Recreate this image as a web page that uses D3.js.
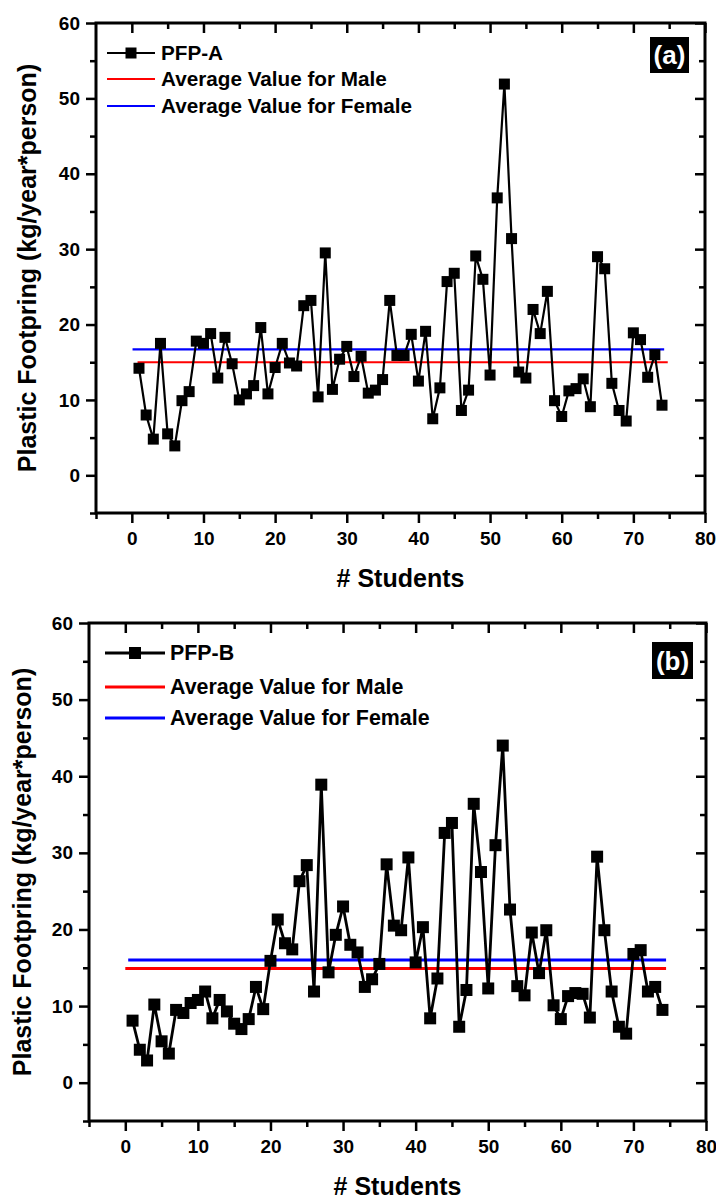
<!DOCTYPE html>
<html>
<head>
<meta charset="utf-8">
<script src="https://cdn.jsdelivr.net/npm/d3@7"></script>
<style>
body { margin: 0; background: #fff; }
svg text { font-family: "Liberation Sans", Arial, sans-serif; font-weight: bold; }
</style>
</head>
<body>
<svg id="chart" width="716" height="1199"></svg>
<script>
// plastic footprint per student
var pfpA = [14.2, 8.0, 4.8, 17.5, 5.5, 3.9, 9.9, 11.1, 17.8, 17.5,
	18.8, 12.9, 18.3, 14.8, 10.0, 10.8, 11.9, 19.6, 10.8, 14.3,
	17.5, 14.9, 14.5, 22.5, 23.2, 10.4, 29.5, 11.4, 15.4, 17.1,
	13.1, 15.8, 10.9, 11.3, 12.7, 23.2, 15.9, 15.9, 18.7, 12.5,
	19.1, 7.5, 11.6, 25.7, 26.8, 8.6, 11.3, 29.1, 26.0, 13.3,
	36.8, 51.9, 31.4, 13.7, 12.9, 22.0, 18.8, 24.4, 9.9, 7.8,
	11.2, 11.5, 12.8, 9.1, 29.0, 27.4, 12.2, 8.6, 7.2, 18.9,
	18.0, 13.0, 16.0, 9.3];

var pfpB = [8.1, 4.3, 2.9, 10.2, 5.4, 3.8, 9.5, 9.1, 10.4, 10.8,
	11.9, 8.4, 10.8, 9.3, 7.7, 7.0, 8.3, 12.5, 9.6, 15.9,
	21.3, 18.2, 17.4, 26.3, 28.4, 11.9, 38.9, 14.4, 19.3, 23.0,
	18.0, 17.0, 12.5, 13.5, 15.5, 28.5, 20.5, 19.9, 29.4, 15.7,
	20.3, 8.4, 13.6, 32.6, 33.9, 7.3, 12.1, 36.4, 27.5, 12.3,
	31.0, 44.0, 22.6, 12.6, 11.4, 19.6, 14.3, 19.9, 10.1, 8.3,
	11.3, 11.7, 11.6, 8.5, 29.5, 19.9, 11.9, 7.3, 6.4, 16.8,
	17.3, 11.9, 12.5, 9.5];

// average lines: value and x extent
var maleAvgA = 15.0, femaleAvgA = 16.7;
var maleAvgB = 14.9, femaleAvgB = 16.0;
var maleSpanA = [0.8, 74.8], femaleSpanA = [0.1, 74.3];
var maleSpanB = [0.0, 74.5], femaleSpanB = [0.4, 74.5];

var xDomain = [-5, 80], yDomain = [-5, 60];
var xMajor = [0, 10, 20, 30, 40, 50, 60, 70, 80];
var xMinor = [-5, 5, 15, 25, 35, 45, 55, 65, 75];
var yMajor = [0, 10, 20, 30, 40, 50, 60];
var yMinor = [-5, 5, 15, 25, 35, 45, 55];

var legendA = ["PFP-A", "Average Value for Male", "Average Value for Female"];
var legendB = ["PFP-B", "Average Value for Male", "Average Value for Female"];
var xTitle = "# Students";
var yTitle = "Plastic Footpring (kg/year*person)";

var svg = d3.select("#chart");

function drawPanel(p) {
	var x = d3.scaleLinear().domain(xDomain).range([p.left, p.right]);
	var y = d3.scaleLinear().domain(yDomain).range([p.bottom, p.top]);
	var g = svg.append("g");

	// average lines
	g.append("line")
		.attr("x1", x(p.femaleSpan[0])).attr("x2", x(p.femaleSpan[1]))
		.attr("y1", y(p.femaleAvg)).attr("y2", y(p.femaleAvg))
		.attr("stroke", "#0000ff").attr("stroke-width", p.avgWidth);
	g.append("line")
		.attr("x1", x(p.maleSpan[0])).attr("x2", x(p.maleSpan[1]))
		.attr("y1", y(p.maleAvg)).attr("y2", y(p.maleAvg))
		.attr("stroke", "#ff0000").attr("stroke-width", p.avgWidth);

	// data line + square markers
	var line = d3.line()
		.x(function(d, i) { return x(i + 1); })
		.y(function(d) { return y(d); });
	g.append("path")
		.datum(p.values)
		.attr("d", line)
		.attr("fill", "none")
		.attr("stroke", "#000")
		.attr("stroke-width", p.lineWidth)
		.attr("stroke-linejoin", "miter");
	g.selectAll(".pt")
		.data(p.values)
		.enter().append("rect")
		.attr("class", "pt")
		.attr("x", function(d, i) { return x(i + 1) - p.mark / 2; })
		.attr("y", function(d) { return y(d) - p.mark / 2; })
		.attr("width", p.mark)
		.attr("height", p.mark)
		.attr("fill", "#000");

	// axes
	var axes = g.append("g").attr("class", "axes");
	axes.append("g").attr("transform", "translate(0," + p.bottom + ")")
		.call(d3.axisBottom(x).tickValues(xMajor).tickSize(10).tickPadding(9));
	axes.append("g").attr("transform", "translate(0," + p.bottom + ")")
		.call(d3.axisBottom(x).tickValues(xMinor).tickSize(6).tickFormat(""));
	axes.append("g").attr("transform", "translate(0," + p.top + ")")
		.call(d3.axisTop(x).tickValues(xMajor).tickSize(-10).tickFormat(""));
	axes.append("g").attr("transform", "translate(0," + p.top + ")")
		.call(d3.axisTop(x).tickValues(xMinor.slice(1)).tickSize(-6).tickFormat(""));
	axes.append("g").attr("transform", "translate(" + p.left + ",0)")
		.call(d3.axisLeft(y).tickValues(yMajor).tickSize(10).tickPadding(6));
	axes.append("g").attr("transform", "translate(" + p.left + ",0)")
		.call(d3.axisLeft(y).tickValues(yMinor).tickSize(6).tickFormat(""));
	axes.append("g").attr("transform", "translate(" + p.right + ",0)")
		.call(d3.axisRight(y).tickValues(yMajor).tickSize(-10).tickFormat(""));
	axes.append("g").attr("transform", "translate(" + p.right + ",0)")
		.call(d3.axisRight(y).tickValues(yMinor.slice(1)).tickSize(-6).tickFormat(""));

	axes.selectAll(".domain").remove();
	axes.selectAll(".tick line").attr("stroke", "#000").attr("stroke-width", 2.5);
	axes.selectAll("g").attr("font-family", null).attr("font-size", null);
	axes.selectAll(".tick text").attr("fill", "#000").style("font-size", p.tickFont + "px");

	g.append("rect")
		.attr("x", p.left).attr("y", p.top)
		.attr("width", p.right - p.left).attr("height", p.bottom - p.top)
		.attr("fill", "none").attr("stroke", "#000").attr("stroke-width", 3);

	// titles
	g.append("text")
		.attr("x", (p.left + p.right) / 2)
		.attr("y", p.xTitleY)
		.attr("text-anchor", "middle")
		.style("font-size", p.titleFont + "px")
		.text(xTitle);
	g.append("text")
		.attr("transform", "translate(" + p.yTitleX + "," + (p.top + p.bottom) / 2 + ") rotate(-90)")
		.attr("text-anchor", "middle")
		.style("font-size", p.titleFont + "px")
		.text(yTitle);

	// legend
	var lg = g.append("g").attr("transform", "translate(" + (p.left + p.legX) + "," + p.top + ")");
	var colors = ["#000", "#ff0000", "#0000ff"];
	p.legend.forEach(function(label, i) {
		var ly = p.legRows[i];
		lg.append("line")
			.attr("x1", 0).attr("x2", p.legLen)
			.attr("y1", ly).attr("y2", ly)
			.attr("stroke", colors[i])
			.attr("stroke-width", i == 0 ? p.lineWidth : p.avgWidth);
		if (i == 0) {
			lg.append("rect")
				.attr("x", p.legLen / 2 - p.mark / 2)
				.attr("y", ly - p.mark / 2)
				.attr("width", p.mark).attr("height", p.mark)
				.attr("fill", "#000");
		}
		lg.append("text")
			.attr("x", p.legLen + p.legGap)
			.attr("y", ly)
			.attr("dy", "0.35em")
			.style("font-size", p.legFont + "px")
			.text(label);
	});

	// panel tag
	g.append("rect")
		.attr("x", p.right - p.tagRight - p.tagW)
		.attr("y", p.top + p.tagTop)
		.attr("width", p.tagW).attr("height", p.tagH)
		.attr("fill", "#000");
	g.append("text")
		.attr("x", p.right - p.tagRight - p.tagW / 2)
		.attr("y", p.top + p.tagTop + p.tagH / 2)
		.attr("dy", "0.36em")
		.attr("text-anchor", "middle")
		.attr("fill", "#fff")
		.style("font-size", p.tagFont + "px")
		.text(p.tag);
}

drawPanel({
	left: 96, right: 705, top: 23, bottom: 513,
	values: pfpA,
	maleAvg: maleAvgA, femaleAvg: femaleAvgA,
	maleSpan: maleSpanA, femaleSpan: femaleSpanA,
	avgWidth: 2.2, lineWidth: 2.2, mark: 11,
	tickFont: 19, titleFont: 25, legFont: 20.7, tagFont: 26,
	xTitleY: 587, yTitleX: 36,
	legend: legendA, legX: 11, legLen: 48, legGap: 6, legRows: [30, 56, 83],
	tag: "(a)", tagRight: 16, tagTop: 14, tagW: 39, tagH: 36
});

drawPanel({
	left: 89, right: 706, top: 623, bottom: 1121,
	values: pfpB,
	maleAvg: maleAvgB, femaleAvg: femaleAvgB,
	maleSpan: maleSpanB, femaleSpan: femaleSpanB,
	avgWidth: 3, lineWidth: 2.8, mark: 12,
	tickFont: 19, titleFont: 25, legFont: 21.4, tagFont: 26,
	xTitleY: 1195, yTitleX: 31,
	legend: legendB, legX: 16, legLen: 60, legGap: 5, legRows: [30, 64, 95],
	tag: "(b)", tagRight: 13, tagTop: 19, tagW: 41, tagH: 37
});
</script>
</body>
</html>
